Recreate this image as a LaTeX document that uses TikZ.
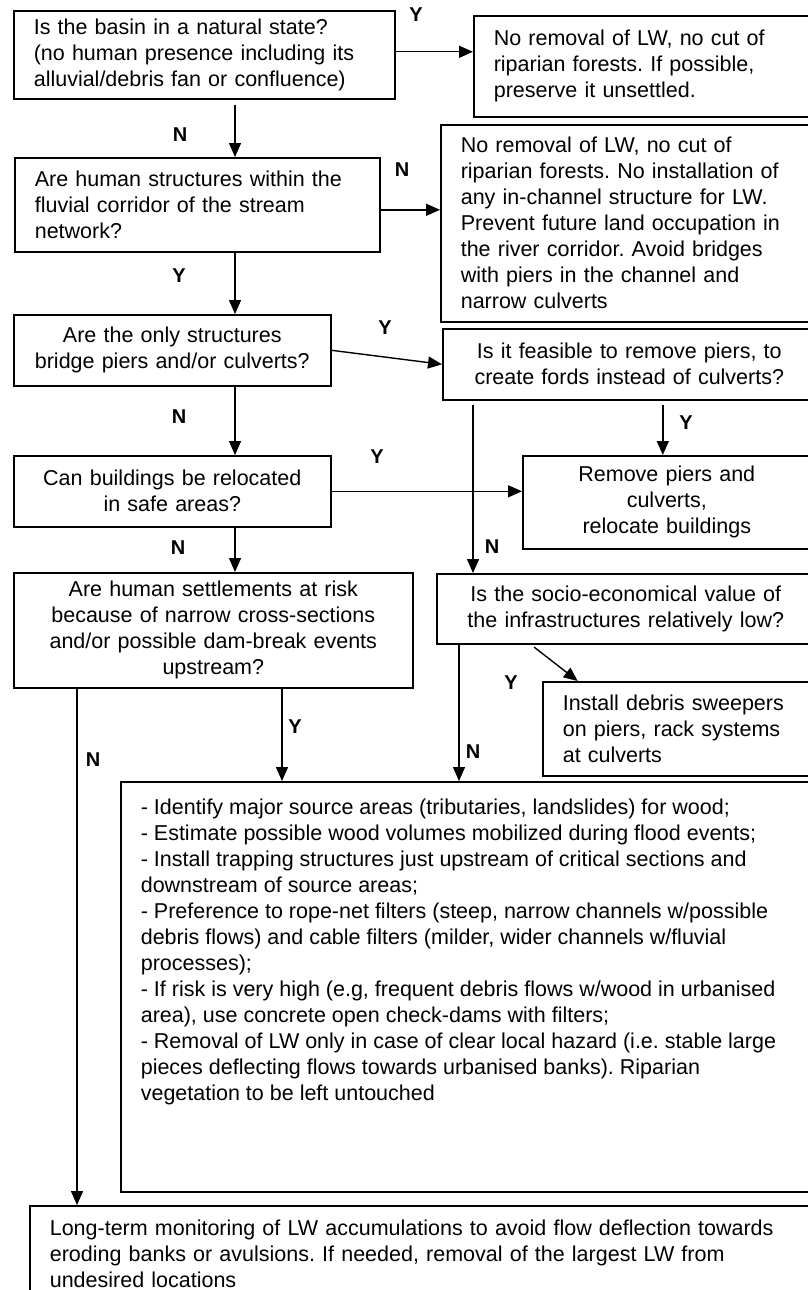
\documentclass[tikz,border=0pt]{standalone}
\usepackage{fontspec}
\setmainfont{Liberation Sans}
\usepackage{tikz}
\usetikzlibrary{arrows.meta, calc}
\newcommand{\flowfont}{\fontsize{21.5}{26}\selectfont\frenchspacing}
\newcommand{\ynfont}{\fontsize{20}{24}\selectfont\bfseries}
\tikzset{
    box/.style={rectangle, draw, line width=1.6pt, anchor=north west, inner xsep=20pt,
                inner ysep=0pt, align=left, font=\flowfont},
    cbox/.style={box, inner xsep=8pt, align=center},
    arrow/.style={line width=1.4pt, -{Triangle[length=14pt, width=12pt]}},
    yn/.style={font=\ynfont, inner sep=0pt}
}

\begin{document}
\begin{tikzpicture}[x=1pt, y=-1pt]
    \clip (0,0) rectangle (808,1290);

    % Questions
    \node[box, minimum width=381pt, minimum height=88pt, text width=341pt] (q1) at (13,10)
        {Is the basin in a natural state?\\(no human presence including its\\alluvial/debris fan or confluence)};
    \node[box, minimum width=365pt, minimum height=94pt, text width=325pt] (q2) at (14,157)
        {Are human structures within the\\fluvial corridor of the stream\\network?};
    \node[cbox, minimum width=317pt, minimum height=71pt, text width=301pt] (q3) at (13,314)
        {Are the only structures\\bridge piers and/or culverts?};
    \node[cbox, minimum width=373pt, minimum height=71pt, text width=357pt] (q4) at (442,328)
        {Is it feasible to remove piers, to\\create fords instead of culverts?};
    \node[cbox, minimum width=317pt, minimum height=71pt, text width=301pt] (q5) at (13,455)
        {Can buildings be relocated\\in safe areas?};
    \node[cbox, minimum width=399pt, minimum height=115pt, text width=383pt] (q6) at (13,572)
        {Are human settlements at risk\\because of narrow cross-sections\\and/or possible dam-break events\\upstream?};
    \node[cbox, minimum width=378pt, minimum height=70pt, text width=362pt] (q7) at (436,573)
        {Is the socio-economical value of\\the infrastructures relatively low?};

    % Actions
    \node[box, minimum width=342pt, minimum height=101pt, text width=302pt] (a1) at (473,15)
        {No removal of LW, no cut of\\riparian forests. If possible,\\preserve it unsettled.};
    \node[box, minimum width=375pt, minimum height=197pt, text width=335pt] (a2) at (440,124)
        {No removal of LW, no cut of\\riparian forests. No installation of\\any in-channel structure for LW.\\Prevent future land occupation in\\the river corridor. Avoid bridges\\with piers in the channel and\\narrow culverts};
    \node[cbox, minimum width=288pt, minimum height=93pt, text width=272pt] (a3) at (522,455)
        {Remove piers and\\culverts,\\relocate buildings};
    \node[box, minimum width=273pt, minimum height=94pt, text width=233pt] (a4) at (542,681)
        {Install debris sweepers\\on piers, rack systems\\at culverts};
    \node[box, inner xsep=19pt, inner ysep=17pt, minimum width=695pt] (a5) at (120,781)
        {\parbox[t][376pt][t]{655pt}{\raggedright
        - Identify major source areas (tributaries, landslides) for wood;\\
        - Estimate possible wood volumes mobilized during flood events;\\
        - Install trapping structures just upstream of critical sections and\\
        downstream of source areas;\\
        - Preference to rope-net filters (steep, narrow channels w/possible\\
        debris flows) and cable filters (milder, wider channels w/fluvial\\
        processes);\\
        - If risk is very high (e.g, frequent debris flows w/wood in urbanised\\
        area), use concrete open check-dams with filters;\\
        - Removal of LW only in case of clear local hazard (i.e. stable large\\
        pieces deflecting flows towards urbanised banks). Riparian\\
        vegetation to be left untouched}};
    \node[box, minimum width=786pt, minimum height=95pt, text width=746pt] (a6) at (29,1205)
        {Long-term monitoring of LW accumulations to avoid flow deflection towards\\eroding banks or avulsions. If needed, removal of the largest LW from\\undesired locations};

    % Columns of the vertical connectors
    \coordinate (spine) at (235,0);
    \coordinate (ncol) at (473,0);
    \coordinate (ycol) at (282,0);
    \coordinate (lcol) at (77,0);
    \coordinate (rcol) at (459,0);

    % Arrows
    \draw[arrow] ([yshift=3pt]q1.east) -- ([yshift=3pt]q1.east -| a1.west);
    \draw[arrow, shorten <=5pt] (q1.south -| spine) -- (q2.north -| spine);
    \draw[arrow] ([yshift=-5pt]q2.east) -- ([yshift=-5pt]q2.east -| a2.west);
    \draw[arrow] (q2.south -| spine) -- (q3.north -| spine);
    \draw[arrow] (q3.east) -- (q4.west);
    \draw[arrow] (q3.south -| spine) -- (q5.north -| spine);
    \draw[arrow, shorten <=4pt] ([xshift=-4pt]q4.south -| a3.north) -- ([xshift=-4pt]a3.north);
    \draw[arrow] (q5.east) -- (q5.east -| a3.west);
    \draw[arrow, shorten <=4pt] (q4.south -| ncol) -- (q7.north -| ncol);
    \draw[arrow] (q5.south -| spine) -- (q6.north -| spine);
    \draw[arrow, shorten <=4pt] ($(q7.south west)!0.25!(q7.south east)$) -- ($(a4.north west)!0.13!(a4.north east)$);
    \draw[arrow] (q6.south -| lcol) -- (a6.north -| lcol);
    \draw[arrow] (q6.south -| ycol) -- (a5.north -| ycol);
    \draw[arrow] (q7.south -| rcol) -- (a5.north -| rcol);

    % Answers
    \node[yn] (y1) at (416,15) {Y};
    \node[yn] (n1) at (180,135) {N};
    \node[yn] (n2) at (402,170) {N};
    \node[yn] (y2) at (179,276) {Y};
    \node[yn] (y3) at (385,328) {Y};
    \node[yn] (n3) at (179,417) {N};
    \node[yn] (y4) at (686,423) {Y};
    \node[yn] (y5) at (377,457) {Y};
    \node[yn] (n4) at (492,547) {N};
    \node[yn] (n5) at (178,548) {N};
    \node[yn] (y6) at (511,683) {Y};
    \node[yn] (n6) at (93,760) {N};
    \node[yn] (y7) at (295,727) {Y};
    \node[yn] (n7) at (473,752) {N};
\end{tikzpicture}
\end{document}
